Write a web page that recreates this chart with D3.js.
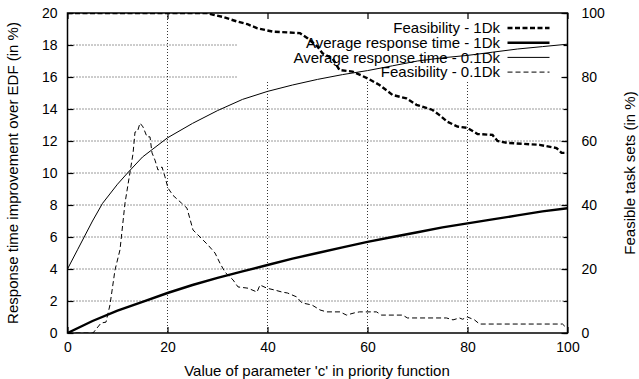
<!DOCTYPE html>
<html>
<head>
<meta charset="utf-8">
<script src="https://cdn.jsdelivr.net/npm/d3@7"></script>
<style>
  body { margin: 0; background: #fff; }
  svg text { font-family: "Liberation Sans", Arial, sans-serif; font-size: 15px; fill: #000; }
</style>
</head>
<body>
<div id="chart"></div>
<script>
// data [c, value]
var feas1Dk = [[0,100],[28,100],[29,99.5],[31,98.8],[34,97.3],[36,96.5],[38,95.2],[41,94.2],[46.5,93.7],[48,92.1],
  [50,89.5],[51,87.4],[53,85.8],[54.4,82.2],[57,81.7],[60,79.6],[62.4,77.5],[65,74.4],[67.8,73.3],[69.8,71.3],
  [73,69.7],[74.4,68.1],[76,66],[78,64.5],[80,64.1],[82,62.2],[85,61.9],[86,60],[88,59.4],[94.4,58.8],
  [97.8,57.8],[98.8,56.3],[100,56.3]];
var resp1Dk = [[0,0],[5,0.75],[10,1.4],[15,1.95],[20,2.5],[25,3.0],[30,3.45],[35,3.85],[40,4.25],[45,4.65],
  [50,5.0],[55,5.35],[60,5.7],[65,6.0],[70,6.3],[75,6.6],[80,6.85],[85,7.1],[90,7.35],[95,7.6],[100,7.8]];
var resp01Dk = [[0,4.0],[2,5.2],[5,7.0],[7,8.1],[10,9.3],[12,10],[15,11],[20,12.2],[25,13.1],[30,13.9],
  [35,14.6],[40,15.1],[45,15.5],[50,15.85],[55,16.15],[60,16.4],[65,16.7],[70,17.0],[75,17.2],[80,17.35],
  [85,17.55],[90,17.75],[95,17.9],[100,18.05]];
var feas01Dk = [[0,0],[5.1,0],[6.7,3.1],[7.7,3.4],[8.5,8.8],[9.5,19.7],[10.5,26],[11.5,40.6],[13.1,56],[13.5,62.8],
  [14,63],[14.5,65.6],[15.1,64.4],[15.9,61.3],[16.5,61.3],[16.9,56.3],[17.5,54],[18.1,50.9],[18.9,51.9],[19.5,48.8],
  [20.1,45.3],[21.1,43],[22.8,40.6],[23.9,39],[25.1,32.2],[26.5,30],[28.1,27.5],[29.5,25],[30.5,21.8],[31.5,19],
  [33.1,16.6],[34.1,14.4],[36.1,14],[37.9,12.8],[38.5,15],[39.9,14],[41.5,13.4],[42.9,12.8],[44,12.5],[45.8,11.3],
  [46.9,9.4],[48.9,8.75],[50.5,7.2],[51.8,6.6],[54.5,6.6],[55.8,5.6],[57.4,6.3],[58.4,6.6],[61.8,6.6],[62.8,5.6],
  [67,5.6],[68,4.7],[75.8,4.7],[77.1,4.1],[78.4,4.7],[79,4.3],[80,5],[81.4,4.1],[82.4,2.8],[99,2.8],[99.8,1.6]];

var xTicks = [0, 20, 40, 60, 80, 100];
var yTicks = [0, 2, 4, 6, 8, 10, 12, 14, 16, 18, 20];
var y2Ticks = [0, 20, 40, 60, 80, 100];

var legendNames = ["Feasibility - 1Dk", "Average response time - 1Dk", "Average response time - 0.1Dk", "Feasibility - 0.1Dk"];

//chart parameters
var W = 639, H = 379;
var margin = {top: 13, right: 71.5, bottom: 46, left: 67.5};
var width = W - margin.left - margin.right;
var height = H - margin.top - margin.bottom;

var svg = d3.select("#chart").append("svg")
  .attr("width", W).attr("height", H);
var g = svg.append("g").attr("transform", "translate(" + margin.left + "," + margin.top + ")");

var x = d3.scaleLinear().domain([0, 100]).range([0, width]);
var y = d3.scaleLinear().domain([0, 20]).range([height, 0]);
var y2 = d3.scaleLinear().domain([0, 100]).range([height, 0]);

//grid
g.selectAll(".hgrid").data(yTicks.slice(1, -1)).enter().append("line")
  .attr("x1", 0).attr("x2", width).attr("y1", y).attr("y2", y)
  .attr("stroke", "#000").attr("stroke-width", 0.8).attr("stroke-dasharray", "1,2");
g.selectAll(".vgrid").data(xTicks.slice(1, -1)).enter().append("line")
  .attr("x1", x).attr("x2", x).attr("y1", 0).attr("y2", height)
  .attr("stroke", "#000").attr("stroke-width", 0.8).attr("stroke-dasharray", "1,2");

// key area blanks the grid
g.append("rect")
  .attr("x", 170).attr("y", 0).attr("width", width - 170).attr("height", 67)
  .attr("fill", "#fff");

//axes
var xAxis = d3.axisBottom(x).tickValues(xTicks).tickSizeInner(-6).tickSizeOuter(0).tickPadding(9);
var xTop = d3.axisTop(x).tickValues(xTicks).tickSizeInner(-6).tickSizeOuter(0).tickFormat("");
var yAxis = d3.axisLeft(y).tickValues(yTicks).tickSizeInner(-6).tickSizeOuter(0).tickPadding(10);
var yRight = d3.axisRight(y).tickValues(yTicks).tickSizeInner(-4).tickSizeOuter(0).tickFormat("");
var y2Axis = d3.axisRight(y2).tickValues(y2Ticks).tickSizeInner(-6).tickSizeOuter(0).tickPadding(14);

function styleAxis(sel) {
  sel.select(".domain").remove();
  sel.selectAll("line").attr("stroke", "#000").attr("stroke-width", 1.2);
  sel.selectAll("text").style("font-size", "14px").attr("font-family", null);
}
g.append("g").attr("transform", "translate(0," + height + ")").call(xAxis).call(styleAxis);
g.append("g").call(xTop).call(styleAxis);
g.append("g").call(yAxis).call(styleAxis);
g.append("g").attr("transform", "translate(" + width + ",0)").call(yRight).call(styleAxis);
g.append("g").attr("transform", "translate(" + width + ",0)").call(y2Axis).call(styleAxis);

//series
var line1 = d3.line().x(function(d) { return x(d[0]); }).y(function(d) { return y(d[1]); });
var line2 = d3.line().x(function(d) { return x(d[0]); }).y(function(d) { return y2(d[1]); });

var series = [
  {data: feas1Dk, gen: line2, w: 2.4, dash: "5,2.5"},
  {data: resp1Dk, gen: line1, w: 2.4, dash: null},
  {data: resp01Dk, gen: line1, w: 1, dash: null},
  {data: feas01Dk, gen: line2, w: 1, dash: "5,3"}
];
var clip = svg.append("clipPath").attr("id", "clip").append("rect")
  .attr("width", width).attr("height", height);
series.forEach(function(s) {
  g.append("path").datum(s.data)
    .attr("d", s.gen)
    .attr("fill", "none").attr("stroke", "#000")
    .attr("stroke-width", s.w)
    .attr("stroke-dasharray", s.dash)
    .attr("clip-path", "url(#clip)");
});

//legend
var key = g.append("g");
series.forEach(function(s, i) {
  var ky = 15 + i * 14.7;
  key.append("text").attr("x", 432.5).attr("y", ky).attr("dy", "0.35em")
    .attr("text-anchor", "end").text(legendNames[i]);
  key.append("line").attr("x1", 440).attr("x2", 482).attr("y1", ky).attr("y2", ky)
    .attr("stroke", "#000").attr("stroke-width", s.w).attr("stroke-dasharray", s.dash);
});

//border
g.append("rect").attr("width", width).attr("height", height)
  .attr("fill", "none").attr("stroke", "#000").attr("stroke-width", 1.5);

//axis titles
svg.append("text")
  .attr("transform", "translate(18," + (margin.top + height / 2) + ") rotate(-90)")
  .attr("text-anchor", "middle").text("Response time improvement over EDF (in %)");
svg.append("text")
  .attr("transform", "translate(635," + (margin.top + height / 2) + ") rotate(-90)")
  .attr("text-anchor", "middle").text("Feasible task sets (in %)");
svg.append("text")
  .attr("x", 317).attr("y", 376)
  .attr("text-anchor", "middle").text("Value of parameter 'c'  in priority function");
</script>
</body>
</html>
